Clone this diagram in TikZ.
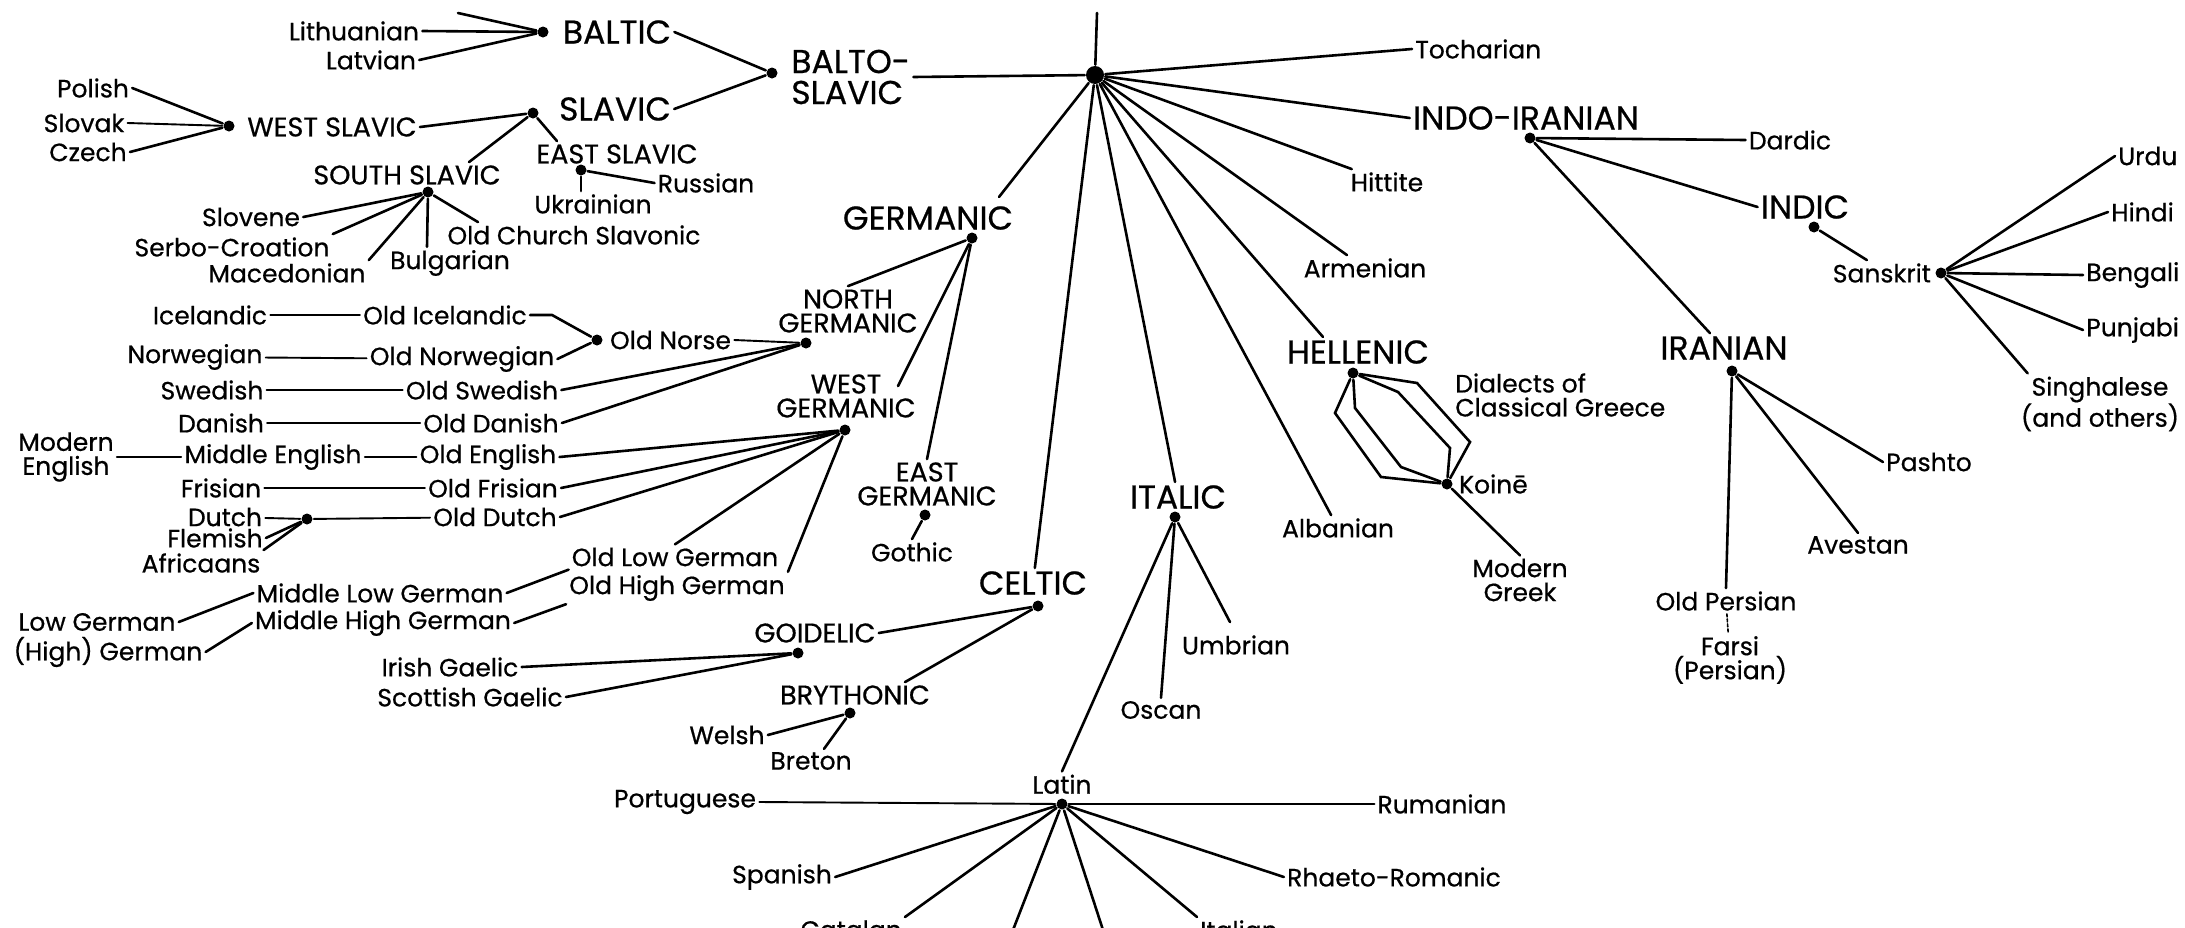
\documentclass[tikz,border=0pt]{standalone}
\usepackage{fontspec}
\setmainfont{Poppins}[FakeBold=0.6]
\usetikzlibrary{positioning}

\begin{document}
\begin{tikzpicture}[x=1pt,y=-1pt,line width=2.6pt,line cap=round]
    \tikzstyle{langname}=[font=\fontsize{25}{24}\selectfont, inner sep=2pt, align=center]
    \tikzstyle{subname}=[font=\fontsize{27}{24}\selectfont, inner sep=2pt, align=center]
    \tikzstyle{branchname}=[font=\fontsize{33}{31}\selectfont, inner sep=2pt, align=left]
    \tikzstyle{junction}=[circle, fill=black, inner sep=0pt, minimum size=11pt]
    \tikzstyle{rootjunction}=[junction, minimum size=18pt]
    \tikzstyle{descent}=[line width=1.9pt]

    \useasboundingbox (0,0) rectangle (2185,927);

    % root of the family
    \node[rootjunction] (PIE) at (1095,75) {};
    \coordinate (PIE-top) at (1097,13);

    % Balto-Slavic
    \node[branchname, anchor=west] (BS) at (788,77) {BALTO-\\SLAVIC};
    \node[junction] (BS-j) at (772,73) {};
    \node[branchname] (Baltic) at (617,32) {BALTIC};
    \node[junction] (Baltic-j) at (543,32) {};
    \coordinate (Baltic-top) at (458,13);
    \node[langname] (Lithuanian) at (354,31) {Lithuanian};
    \node[langname] (Latvian) at (371,60) {Latvian};
    \node[branchname] (Slavic) at (615,109) {SLAVIC};
    \node[junction] (Slavic-j) at (533,113) {};
    \node[subname] (WSlavic) at (332,127) {WEST SLAVIC};
    \node[junction] (WSlavic-j) at (229,126) {};
    \node[langname] (Polish) at (93,88) {Polish};
    \node[langname] (Slovak) at (84,123) {Slovak};
    \node[langname] (Czech) at (88,152) {Czech};
    \node[subname] (ESlavic) at (617,154) {EAST SLAVIC};
    \node[junction] (ESlavic-j) at (581,170) {};
    \node[langname] (Russian) at (706,183) {Russian};
    \node[langname] (Ukrainian) at (593,204) {Ukrainian};
    \node[subname] (SSlavic) at (407,175) {SOUTH SLAVIC};
    \node[junction] (SSlavic-j) at (428,192) {};
    \node[langname] (Slovene) at (251,217) {Slovene};
    \node[langname] (SerboCroation) at (232,247) {Serbo-Croation};
    \node[langname] (Macedonian) at (287,273) {Macedonian};
    \node[langname] (Bulgarian) at (450,263) {Bulgarian};
    \node[langname] (OCS) at (574,235) {Old Church Slavonic};

    % Germanic
    \node[branchname] (Germanic) at (928,218) {GERMANIC};
    \node[junction] (Germanic-j) at (972,238) {};
    \node[subname] (NGerm) at (848,311) {NORTH\\GERMANIC};
    \node[junction] (NGerm-j) at (806,343) {};
    \node[junction] (Norse-j) at (597,340) {};
    \node[langname, right=3pt of Norse-j] (Norse) {Old Norse};
    \node[langname] (OIcelandic) at (445,315) {Old Icelandic};
    \node[langname] (Icelandic) at (210,315) {Icelandic};
    \node[langname] (ONorwegian) at (462,359) {Old Norwegian};
    \node[langname] (Norwegian) at (195,357) {Norwegian};
    \node[langname] (OSwedish) at (482,390) {Old Swedish};
    \node[langname] (Swedish) at (212,390) {Swedish};
    \node[langname] (ODanish) at (491,423) {Old Danish};
    \node[langname] (Danish) at (221,423) {Danish};
    \node[subname] (WGerm) at (846,396) {WEST\\GERMANIC};
    \node[junction] (WGerm-j) at (845,430) {};
    \node[langname] (OEnglish) at (488,457) {Old English};
    \node[langname] (MEnglish) at (273,457) {Middle English};
    \node[langname] (ModEnglish) at (66,457) {Modern\\English};
    \node[langname] (OFrisian) at (493,488) {Old Frisian};
    \node[langname] (Frisian) at (221,488) {Frisian};
    \node[langname] (ODutch) at (495,517) {Old Dutch};
    \node[langname] (Dutch) at (225,517) {Dutch};
    \node[junction] (Dutch-j) at (307,519) {};
    \node[langname] (Flemish) at (215,538) {Flemish};
    \node[langname] (Africaans) at (201,563) {Africaans};
    \node[langname] (OLowGerman) at (675,557) {Old Low German};
    \node[langname] (OHighGerman) at (677,588) {Old High German};
    \node[langname] (MLowGerman) at (380,593) {Middle Low German};
    \node[langname] (MHighGerman) at (383,623) {Middle High German};
    \node[langname] (LowGerman) at (97,622) {Low German};
    \node[langname] (HighGerman) at (108,652) {(High) German};
    \node[subname] (EGerm) at (927,484) {EAST\\GERMANIC};
    \node[junction] (EGerm-j) at (925,515) {};
    \node[langname] (Gothic) at (912,552) {Gothic};

    % Celtic
    \node[branchname] (Celtic) at (1033,583) {CELTIC};
    \node[junction] (Celtic-j) at (1038,606) {};
    \node[subname] (Goidelic) at (815,633) {GOIDELIC};
    \node[junction] (Goidelic-j) at (798,653) {};
    \node[langname] (IrishGaelic) at (450,667) {Irish Gaelic};
    \node[langname] (ScottishGaelic) at (470,697) {Scottish Gaelic};
    \node[subname] (Brythonic) at (855,695) {BRYTHONIC};
    \node[junction] (Brythonic-j) at (850,713) {};
    \node[langname] (Welsh) at (727,735) {Welsh};
    \node[langname] (Breton) at (811,761) {Breton};

    % Italic
    \node[branchname] (Italic) at (1178,497) {ITALIC};
    \node[junction] (Italic-j) at (1175,517) {};
    \node[langname] (Umbrian) at (1236,645) {Umbrian};
    \node[langname] (Oscan) at (1161,710) {Oscan};
    \node[junction] (Latin-j) at (1062,804) {};
    \node[langname, above=0pt of Latin-j] (Latin) {Latin};
    \node[langname] (Portuguese) at (685,802) {Portuguese};
    \node[langname] (Rumanian) at (1442,804) {Rumanian};
    \node[langname] (Spanish) at (782,877) {Spanish};
    \node[langname] (Rhaeto) at (1394,877) {Rhaeto-Romanic};
    \node[langname, anchor=north east] (Catalan) at (905,917) {Catalan};
    \node[langname, anchor=north west] (Italian) at (1197,917) {Italian};
    \coordinate (Romance-3) at (1013,930);
    \coordinate (Romance-4) at (1103,930);

    % Hellenic
    \node[branchname] (Hellenic) at (1358,352) {HELLENIC};
    \node[junction] (Hellenic-j) at (1353,373) {};
    \node[junction] (Koine-j) at (1447,484) {};
    \node[langname, right=2pt of Koine-j] (Koine) {Koin\={e}};
    \node[langname, align=left, anchor=west] (Dialects) at (1452,395) {Dialects of\\Classical Greece};
    \node[langname] (MGreek) at (1520,580) {Modern\\Greek};

    % Indo-Iranian
    \node[branchname] (IndoIranian) at (1526,118) {INDO-IRANIAN};
    \node[junction] (IndoIranian-j) at (1530,138) {};
    \node[langname] (Dardic) at (1790,140) {Dardic};
    \node[branchname] (Indic) at (1805,207) {INDIC};
    \node[junction] (Indic-j) at (1814,227) {};
    \node[junction] (Sanskrit-j) at (1941,273) {};
    \node[langname, left=0pt of Sanskrit-j] (Sanskrit) {Sanskrit};
    \node[langname, anchor=west] (Urdu) at (2115,156) {Urdu};
    \node[langname, anchor=west] (Hindi) at (2108,212) {Hindi};
    \node[langname, anchor=west] (Bengali) at (2083,275) {Bengali};
    \node[langname, anchor=west] (Punjabi) at (2083,330) {Punjabi};
    \node[langname] (Singhalese) at (2100,404) {Singhalese\\(and others)};
    \node[branchname] (Iranian) at (1724,348) {IRANIAN};
    \node[junction] (Iranian-j) at (1732,371) {};
    \node[langname] (Pashto) at (1929,462) {Pashto};
    \node[langname] (Avestan) at (1858,545) {Avestan};
    \node[langname] (OPersian) at (1726,601) {Old Persian};
    \node[langname] (Farsi) at (1730,660) {Farsi\\(Persian)};

    % other branches
    \node[langname, anchor=west] (Tocharian) at (1412,49) {Tocharian};
    \node[langname] (Hittite) at (1387,182) {Hittite};
    \node[langname] (Armenian) at (1365,268) {Armenian};
    \node[langname] (Albanian) at (1338,528) {Albanian};

    % connectors from the root
    \draw (PIE-top) -- (PIE);
    \draw (PIE) -- (BS.east);
    \draw (PIE) -- (Tocharian.west);
    \draw (PIE) -- (IndoIranian.west);
    \draw (PIE) -- (Hittite);
    \draw (PIE) -- (Armenian);
    \draw (PIE) -- ([xshift=-35pt]Hellenic.north);
    \draw (PIE) -- (Albanian);
    \draw (PIE) -- (Italic);
    \draw (PIE) -- (Celtic);
    \draw (PIE) -- ([xshift=71pt,yshift=6pt]Germanic.north);

    % Balto-Slavic
    \draw (Baltic-top) -- (Baltic-j);
    \draw (Lithuanian.east) -- (Baltic-j);
    \draw (Latvian.east) -- (Baltic-j);
    \draw (Baltic.east) -- (BS-j);
    \draw (Slavic.east) -- (BS-j);
    \draw (WSlavic.east) -- (Slavic-j);
    \draw (Slavic-j) -- ([xshift=-60pt]ESlavic.north);
    \draw (Slavic-j) -- ([xshift=62pt]SSlavic.north);
    \draw (Polish.east) -- (WSlavic-j);
    \draw[descent] (Slovak.east) -- (WSlavic-j);
    \draw (Czech.east) -- (WSlavic-j);
    \draw (ESlavic-j) -- (Russian.west);
    \draw (ESlavic-j) -- ([xshift=-12pt]Ukrainian.north);
    \draw (SSlavic-j) -- (Slovene.east);
    \draw (SSlavic-j) -- (SerboCroation.north east);
    \draw (SSlavic-j) -- (Macedonian.north east);
    \draw (SSlavic-j) -- ([xshift=-23pt]Bulgarian.north);
    \draw (SSlavic-j) -- ([xshift=-96pt]OCS.north);

    % Germanic
    \draw (Germanic-j) -- (NGerm.north);
    \draw (Germanic-j) -- ([xshift=52pt,yshift=-15pt]WGerm.north);
    \draw (Germanic-j) -- (EGerm.north);
    \draw (EGerm-j) -- (Gothic.north);
    \draw[descent] (Norse.east) -- (NGerm-j);
    \draw (NGerm-j) -- (OSwedish.east);
    \draw (NGerm-j) -- (ODanish.east);
    \draw (OIcelandic.east) -- ++(22,0) -- (Norse-j);
    \draw (ONorwegian.east) -- (Norse-j);
    \draw[descent] (Icelandic) -- (OIcelandic);
    \draw[descent] (Norwegian) -- (ONorwegian);
    \draw[descent] (Swedish) -- (OSwedish);
    \draw[descent] (Danish) -- (ODanish);
    \draw (WGerm-j) -- (OEnglish.east);
    \draw (WGerm-j) -- (OFrisian.east);
    \draw (WGerm-j) -- (ODutch.east);
    \draw (WGerm-j) -- (OLowGerman.north);
    \draw (WGerm-j) -- (OHighGerman.north east);
    \draw[descent] (ModEnglish) -- (MEnglish);
    \draw[descent] (MEnglish) -- (OEnglish);
    \draw[descent] (Frisian) -- (OFrisian);
    \draw[descent] (Dutch) -- (Dutch-j) -- (ODutch);
    \draw (Flemish.east) -- (Dutch-j);
    \draw (Africaans.north east) -- (Dutch-j);
    \draw (MLowGerman.east) -- (OLowGerman.south west);
    \draw (MHighGerman.east) -- (OHighGerman.south west);
    \draw (LowGerman.east) -- (MLowGerman.west);
    \draw (HighGerman.east) -- (MHighGerman.west);

    % Celtic
    \draw (Celtic-j) -- (Goidelic.east);
    \draw (Celtic-j) -- ([xshift=50pt]Brythonic.north);
    \draw (Goidelic-j) -- (IrishGaelic.east);
    \draw (Goidelic-j) -- (ScottishGaelic.east);
    \draw (Brythonic-j) -- (Welsh.east);
    \draw (Brythonic-j) -- ([xshift=13pt]Breton.north);

    % Italic
    \draw (Italic-j) -- ([xshift=-6pt,yshift=10pt]Umbrian.north);
    \draw (Italic-j) -- (Oscan.north);
    \draw (Italic-j) -- (Latin.north);
    \draw[descent] (Latin-j) -- (Portuguese.east);
    \draw (Latin-j) -- (Rumanian.west);
    \draw (Latin-j) -- (Spanish.east);
    \draw (Latin-j) -- (Rhaeto.west);
    \draw (Latin-j) -- (Catalan.north east);
    \draw (Latin-j) -- (Romance-3);
    \draw (Latin-j) -- (Romance-4);
    \draw (Latin-j) -- (Italian.north west);

    % Hellenic
    \draw (Hellenic-j) -- (1335,413) -- (1381,477) -- (Koine-j);
    \draw (Hellenic-j) -- (1417,383) -- (1470,442) -- (Koine-j);
    \draw (Hellenic-j) -- (1355,408) -- (1401,467) -- (Koine-j);
    \draw (Hellenic-j) -- (1398,392) -- (1450,448) -- (Koine-j);
    \draw (Koine-j) -- (MGreek.north);

    % Indo-Iranian
    \draw (IndoIranian-j) -- (Dardic.west);
    \draw (IndoIranian-j) -- (Indic.west);
    \draw (IndoIranian-j) -- ([xshift=-14pt]Iranian.north);
    \draw (Indic-j) -- ([xshift=-15pt]Sanskrit.north);
    \draw (Sanskrit-j) -- (Urdu.west);
    \draw (Sanskrit-j) -- (Hindi.west);
    \draw (Sanskrit-j) -- (Bengali.west);
    \draw (Sanskrit-j) -- (Punjabi.west);
    \draw (Sanskrit-j) -- ([xshift=10pt]Singhalese.north west);
    \draw (Iranian-j) -- (Pashto.west);
    \draw (Iranian-j) -- (Avestan.north);
    \draw (Iranian-j) -- (OPersian.north);
    \draw[densely dashed, line width=1.6pt] (OPersian) -- (Farsi);
\end{tikzpicture}
\end{document}
